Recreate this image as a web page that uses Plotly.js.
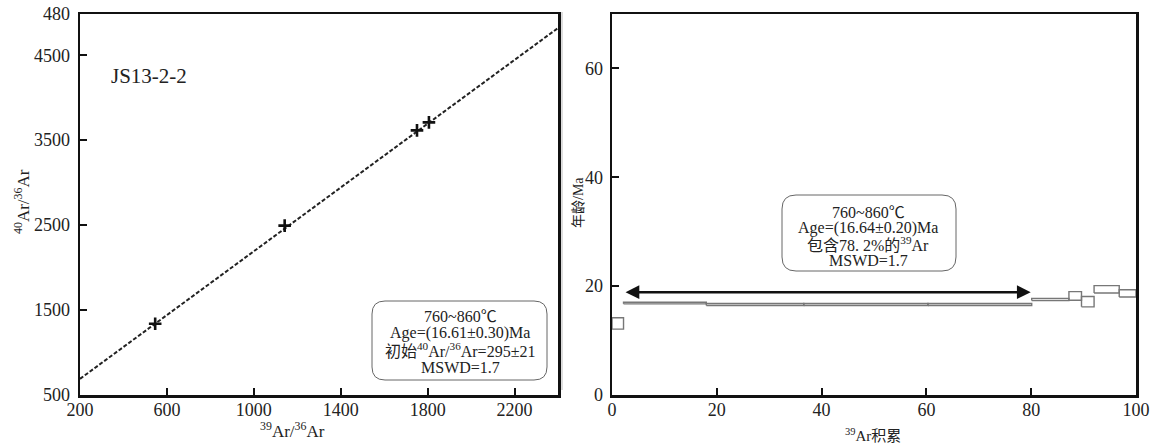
<!DOCTYPE html>
<html>
<head>
<meta charset="utf-8">
<script src="https://cdn.plot.ly/plotly-3.0.1.min.js"></script>
<style>html,body{margin:0;padding:0;background:#fff;}#chart{width:1152px;height:444px;}</style>
</head>
<body>
<div id="chart"></div>
<script>
// ---- Isochron (left panel) data ----
const isoX = [546, 1142, 1751, 1806];           // 39Ar/36Ar
const isoY = [1338, 2494, 3615, 3709];          // 40Ar/36Ar
const isoLineX = [200, 2400];
const isoLineY = [690, 4820];
const leftXTicks = [200, 600, 1000, 1400, 1800, 2200];
const leftYTickVals = [500, 1500, 2500, 3500, 4500, 4985];
const leftYTickText = ['500', '1500', '2500', '3500', '4500', '480'];

// ---- Age spectrum (right panel) data ----
const stepEdges = [0, 2.2, 18.0, 36.6, 60.3, 80.1, 87.2, 89.6, 92.0, 96.8, 100];
const ageLow  = [12.1, 16.75, 16.45, 16.45, 16.45, 17.35, 17.4, 16.2, 18.75, 18.0];
const ageHigh = [14.2, 17.05, 16.8, 16.8, 16.8, 17.75, 19.0, 18.1, 20.1, 19.35];
const plateauStart = 2.3, plateauEnd = 79.9, plateauArrowAge = 18.9;
const rightXTicks = [0, 20, 40, 60, 80, 100];
const rightYTicks = [0, 20, 40, 60];

const SERIF = "'Liberation Serif', 'Noto Sans CJK SC', serif";
const W = 1152, H = 444;
const px = v => v / W, py = v => 1 - v / H;

// build step rectangles
const sx = [], sy = [];
for (let i = 0; i < ageLow.length; i++) {
  const x0 = stepEdges[i], x1 = stepEdges[i + 1];
  sx.push(x0, x1, x1, x0, x0, null);
  sy.push(ageLow[i], ageLow[i], ageHigh[i], ageHigh[i], ageLow[i], null);
}

const traces = [
  {x: isoLineX, y: isoLineY, xaxis: 'x', yaxis: 'y', mode: 'lines',
   line: {color: '#222', width: 2, dash: '4px,2px'}, hoverinfo: 'skip'},
  {x: isoX, y: isoY, xaxis: 'x', yaxis: 'y', mode: 'markers',
   marker: {symbol: 'cross-thin', size: 9, color: '#111', line: {color: '#111', width: 2.6}}},
  {x: sx, y: sy, xaxis: 'x2', yaxis: 'y2', mode: 'lines',
   line: {color: '#777', width: 1.4}, connectgaps: false}
];

function roundRect(x0, y0, x1, y1, r) {
  const rx = r / W, ry = r / H;
  const X0 = px(x0), X1 = px(x1), Y0 = py(y0), Y1 = py(y1);
  return `M ${X0 + rx} ${Y0} L ${X1 - rx} ${Y0} Q ${X1} ${Y0} ${X1} ${Y0 - ry} ` +
         `L ${X1} ${Y1 + ry} Q ${X1} ${Y1} ${X1 - rx} ${Y1} L ${X0 + rx} ${Y1} ` +
         `Q ${X0} ${Y1} ${X0} ${Y1 + ry} L ${X0} ${Y0 - ry} Q ${X0} ${Y0} ${X0 + rx} ${Y0} Z`;
}

const axisCommon = {
  showline: true, mirror: true, linecolor: '#111', linewidth: 2.5,
  ticks: 'inside', ticklen: 7, tickwidth: 2, tickcolor: '#111',
  showgrid: false, zeroline: false,
  tickfont: {family: SERIF, size: 18, color: '#222'}
};

const boxFont = {family: SERIF, size: 16, color: '#222'};
const ann = (x, y, text, extra) => Object.assign({xref: 'paper', yref: 'paper', x: px(x), y: py(y),
  text: text, showarrow: false, font: boxFont, xanchor: 'center', yanchor: 'middle'}, extra || {});

const layout = {
  width: W, height: H,
  margin: {l: 0, r: 0, t: 0, b: 0},
  paper_bgcolor: '#fff', plot_bgcolor: '#fff',
  showlegend: false,
  font: {family: SERIF, color: '#222'},
  xaxis: Object.assign({}, axisCommon, {domain: [px(80), px(558)], range: [200, 2400],
    tickvals: leftXTicks, anchor: 'y', ticklabelstandoff: -3}),
  yaxis: Object.assign({}, axisCommon, {domain: [py(395), py(14)], range: [500, 4985],
    tickvals: leftYTickVals, ticktext: leftYTickText, anchor: 'x', ticklabelstandoff: 4}),
  xaxis2: Object.assign({}, axisCommon, {domain: [px(612), px(1136)], range: [0, 100],
    tickvals: rightXTicks, anchor: 'y2', ticklabelstandoff: -3}),
  yaxis2: Object.assign({}, axisCommon, {domain: [py(395), py(14)], range: [0, 70],
    tickvals: rightYTicks, anchor: 'x2', ticklabelstandoff: 3}),
  shapes: [
    {type: 'path', xref: 'paper', yref: 'paper', path: roundRect(372, 301, 547, 380, 13),
     line: {color: '#666', width: 1}},
    {type: 'path', xref: 'paper', yref: 'paper', path: roundRect(782, 195, 956, 271, 14),
     line: {color: '#666', width: 1}},
    {type: 'line', xref: 'paper', yref: 'paper', x0: px(562), x1: px(562), y0: py(12), y1: py(390),
     line: {color: '#bbb', width: 1}}
  ],
  annotations: [
    ann(149, 76, 'JS13-2-2', {font: {family: SERIF, size: 21, color: '#222'}}),
    ann(22, 202, '<sup>40</sup>Ar/<sup>36</sup>Ar', {textangle: -90, font: {family: SERIF, size: 17, color: '#222'}}),
    ann(292, 430, '<sup>39</sup>Ar/<sup>36</sup>Ar', {font: {family: SERIF, size: 17, color: '#222'}}),
    ann(578, 203, '年龄/Ma', {textangle: -90, font: {family: SERIF, size: 14, color: '#222'}}),
    ann(873, 435, '<sup>39</sup>Ar积累', {font: {family: SERIF, size: 15, color: '#222'}}),
    ann(460, 316, '760~860℃'),
    ann(460, 333, 'Age=(16.61±0.30)Ma'),
    ann(460, 350, '初始<sup>40</sup>Ar/<sup>36</sup>Ar=295±21'),
    ann(460, 367, 'MSWD=1.7'),
    ann(868, 212, '760~860℃'),
    ann(868, 228, 'Age=(16.64±0.20)Ma'),
    ann(868, 244, '包含78. 2%的<sup>39</sup>Ar'),
    ann(868, 260, 'MSWD=1.7'),
    {xref: 'x2', yref: 'y2', x: plateauEnd, y: plateauArrowAge, axref: 'x2', ayref: 'y2',
     ax: plateauStart, ay: plateauArrowAge, text: '', showarrow: true, arrowhead: 2,
     arrowside: 'end+start', arrowsize: 1.1, arrowwidth: 2.5, arrowcolor: '#111', standoff: 0, startstandoff: 0}
  ]
};

Plotly.newPlot('chart', traces, layout, {displayModeBar: false, staticPlot: true});
</script>
</body>
</html>
